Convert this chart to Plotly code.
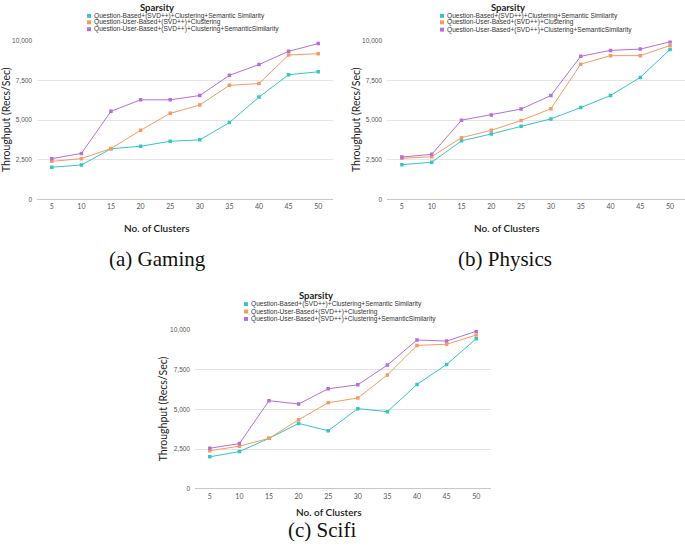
import plotly.graph_objects as go

W, H = 685, 550

clusters = [5, 10, 15, 20, 25, 30, 35, 40, 45, 50]
series_names = [
    "Question-Based+(SVD++)+Clustering+Semantic Similarity",
    "Question-User-Based+(SVD++)+Clustering",
    "Question-User-Based+(SVD++)+Clustering+SemanticSimilarity",
]
series_colors = ["#36C5C7", "#F79A62", "#B46FDC"]

gaming_qb = [2030, 2170, 3190, 3350, 3660, 3750, 4840, 6440, 7850, 8030]
gaming_qub = [2400, 2570, 3210, 4350, 5420, 5940, 7180, 7290, 9090, 9170]
gaming_qub_ss = [2570, 2900, 5550, 6270, 6270, 6540, 7810, 8490, 9320, 9810]

physics_qb = [2190, 2340, 3690, 4120, 4600, 5070, 5780, 6540, 7680, 9440]
physics_qub = [2590, 2690, 3890, 4350, 4970, 5710, 8510, 9050, 9050, 9690]
physics_qub_ss = [2670, 2840, 4990, 5320, 5690, 6540, 9010, 9380, 9460, 9920]

scifi_qb = [2010, 2340, 3170, 4110, 3650, 5040, 4850, 6560, 7820, 9440]
scifi_qub = [2390, 2680, 3170, 4340, 5410, 5710, 7160, 9020, 9090, 9670]
scifi_qub_ss = [2550, 2840, 5540, 5330, 6290, 6540, 7780, 9360, 9290, 9910]

y_ticks = [0, 2500, 5000, 7500, 10000]
captions = ["(a) Gaming", "(b) Physics", "(c) Scifi"]
legend_title = "Sparsity"
x_title = "No. of Clusters"
y_title = "Throughput (Recs/Sec)"


def X(px):
    return px / W


def Y(py):
    return 1 - py / H


panels = [
    dict(data=[gaming_qb, gaming_qub, gaming_qub_ss], ax="", xd=(37, 333), yd=(37, 198),
         ytitle_x=6, xtitle=(157, 227), cap=(157, 258),
         leg_title=(157, 4), leg_sq=89, leg_y=[12, 18.5, 25.5]),
    dict(data=[physics_qb, physics_qub, physics_qub_ss], ax="2", xd=(387, 685), yd=(37, 198),
         ytitle_x=356, xtitle=(507, 227), cap=(505, 258),
         leg_title=(508, 4), leg_sq=442, leg_y=[12, 18.5, 26]),
    dict(data=[scifi_qb, scifi_qub, scifi_qub_ss], ax="3", xd=(195, 491), yd=(330, 491),
         ytitle_x=163, xtitle=(329, 515), cap=(322, 533),
         leg_title=(316, 295), leg_sq=246, leg_y=[304, 311.5, 319]),
]

fig = go.Figure()
annotations = []
shapes = []

for i, p in enumerate(panels):
    for vals, name, col in zip(p["data"], series_names, series_colors):
        fig.add_trace(go.Scatter(
            x=clusters, y=vals, name=name, mode="lines+markers",
            line=dict(color=col, width=1),
            marker=dict(symbol="square", size=3.5, color=col),
            xaxis="x" + p["ax"], yaxis="y" + p["ax"], showlegend=False,
        ))
    ax = p["ax"]
    fig.layout["xaxis" + ax] = dict(
        domain=[X(p["xd"][0]), X(p["xd"][1])], anchor="y" + ax,
        range=[2.5, 52.5], tickvals=clusters, showgrid=False, zeroline=False,
        showline=False, ticks="", tickfont=dict(family="Lato", size=7, color="#555"),
        ticklabelstandoff=2,
    )
    fig.layout["yaxis" + ax] = dict(
        domain=[Y(p["yd"][1]), Y(p["yd"][0])], anchor="x" + ax,
        range=[0, 10000], tickvals=y_ticks, tickformat=",",
        showgrid=True, gridcolor="#e4e4e4", gridwidth=1,
        zeroline=True, zerolinecolor="#c8c8c8", zerolinewidth=1,
        showline=False, ticks="", ticklabelstandoff=4,
        tickfont=dict(family="Liberation Sans", size=6.5, color="#555"),
    )
    annotations.append(dict(
        text=y_title, x=X(p["ytitle_x"]), y=Y((p["yd"][0] + p["yd"][1]) / 2),
        xref="paper", yref="paper", textangle=-90, showarrow=False,
        xanchor="center", yanchor="middle",
        font=dict(family="Lato", size=10.5, color="#222"),
    ))
    annotations.append(dict(
        text=x_title, x=X(p["xtitle"][0]), y=Y(p["xtitle"][1]),
        xref="paper", yref="paper", showarrow=False, xanchor="center", yanchor="middle",
        font=dict(family="Lato", size=10, color="#222", weight=600),
    ))
    annotations.append(dict(
        text=captions[i], x=X(p["cap"][0]), y=Y(p["cap"][1]),
        xref="paper", yref="paper", showarrow=False, xanchor="center", yanchor="middle",
        font=dict(family="Liberation Serif", size=21, color="#111"),
    ))
    annotations.append(dict(
        text="<b>" + legend_title + "</b>", x=X(p["leg_title"][0]), y=Y(p["leg_title"][1]),
        xref="paper", yref="paper", showarrow=False, xanchor="center", yanchor="middle",
        borderpad=0, font=dict(family="Lato", size=9.5, color="#222"),
    ))
    for name, col, ly in zip(series_names, series_colors, p["leg_y"]):
        sx = p["leg_sq"]
        shapes.append(dict(
            type="rect", xref="paper", yref="paper",
            x0=X(sx - 2), x1=X(sx + 2), y0=Y(ly + 2), y1=Y(ly - 2),
            fillcolor=col, line=dict(width=0),
        ))
        annotations.append(dict(
            text=name, x=X(sx + 4), y=Y(ly), xref="paper", yref="paper",
            showarrow=False, xanchor="left", yanchor="middle", borderpad=0,
            font=dict(family="Liberation Sans", size=6.6, color="#333"),
        ))

fig.update_layout(
    width=W, height=H, margin=dict(l=0, r=0, t=0, b=0),
    paper_bgcolor="white", plot_bgcolor="white", showlegend=False,
    annotations=annotations, shapes=shapes,
)

fig.write_html(
    "out.html",
    config={"displayModeBar": False},
    post_script="document.body.style.margin='0';document.body.style.overflow='hidden';",
)
